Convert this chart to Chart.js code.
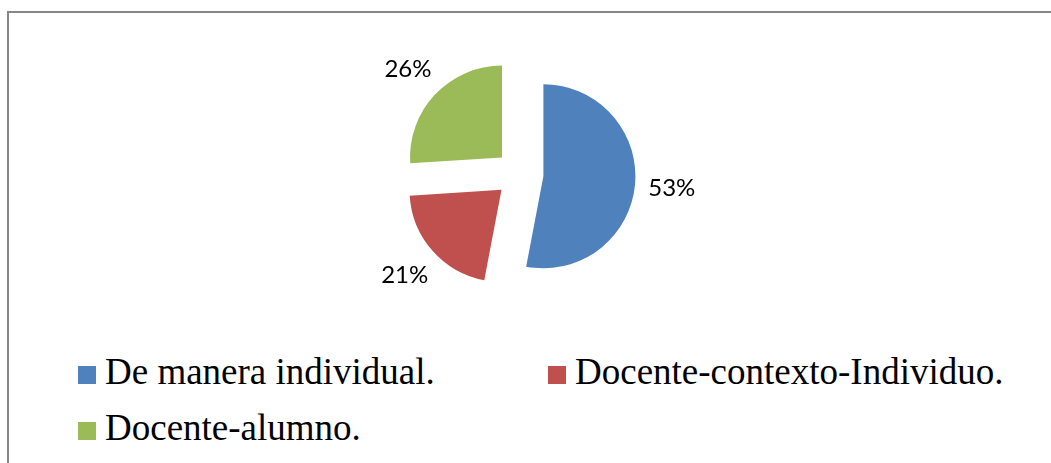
<!DOCTYPE html>
<html>
<head>
<meta charset="utf-8">
<script src="https://cdn.jsdelivr.net/npm/chart.js@4"></script>
<style>
  html, body { margin: 0; padding: 0; background: #fff; }
  body { width: 1051px; height: 463px; position: relative; overflow: hidden; }
  #marco {
    position: absolute; left: 7px; top: 11px; width: 1100px; height: 500px;
    border-left: 2px solid #868686; border-top: 2px solid #868686;
  }
  #torta { position: absolute; left: 0; top: 0; }
  #leyenda {
    position: absolute; left: 78px; top: 344px;
    display: grid; grid-template-columns: 470px auto;
    font-family: "Liberation Serif", "Times New Roman", serif;
    font-size: 37px; line-height: 56px; color: #000;
  }
  #leyenda .caja {
    display: inline-block; width: 18px; height: 18px; margin-right: 9px;
    vertical-align: baseline;
  }
</style>
</head>
<body>
<div id="marco"></div>
<canvas id="torta" width="1051" height="340"></canvas>
<div id="leyenda"></div>
<script>
const categorias = ['De manera individual.', 'Docente-contexto-Individuo.', 'Docente-alumno.'];
const valores = [53, 21, 26];
const colores = ['#4F81BD', '#C0504D', '#9BBB59'];

// separa cada porción de la torta hacia afuera
const separar = {
  id: 'separar',
  afterUpdate(chart) {
    chart.getDatasetMeta(0).data.forEach(arc => {
      const medio = (arc.startAngle + arc.endAngle) / 2;
      arc.x += Math.cos(medio) * 24;
      arc.y += Math.sin(medio) * 24;
    });
  }
};

// porcentajes afuera de cada porción
const etiquetas = {
  id: 'etiquetas',
  afterDatasetsDraw(chart) {
    const ctx = chart.ctx;
    const total = valores.reduce((a, b) => a + b, 0);
    ctx.save();
    ctx.font = '24px Lato';
    ctx.fillStyle = '#000';
    ctx.textAlign = 'center';
    ctx.textBaseline = 'middle';
    chart.getDatasetMeta(0).data.forEach((arc, i) => {
      const medio = (arc.startAngle + arc.endAngle) / 2;
      const r = arc.outerRadius + 37;
      const txt = Math.round(valores[i] / total * 100) + '%';
      ctx.fillText(txt, arc.x + Math.cos(medio) * r, arc.y + Math.sin(medio) * r);
    });
    ctx.restore();
  }
};

const torta = document.getElementById('torta');

  new Chart(torta, {
    type: 'pie',
    data: {
      labels: categorias,
      datasets: [{
        data: valores,
        backgroundColor: colores,
        borderWidth: 0,
        radius: 92
      }]
    },
    options: {
      responsive: false,
      animation: false,
      layout: {
        padding: { top: 8, right: 12, bottom: 0, left: 0 }
      },
      plugins: {
        legend: { display: false },
        tooltip: { enabled: true }
      }
    },
    plugins: [separar, etiquetas]
  });

const leyenda = document.getElementById('leyenda');
categorias.forEach((c, i) => {
  const item = document.createElement('div');
  const caja = document.createElement('span');
  caja.className = 'caja';
  caja.style.background = colores[i];
  item.appendChild(caja);
  item.appendChild(document.createTextNode(c));
  leyenda.appendChild(item);
});
</script>
</body>
</html>
